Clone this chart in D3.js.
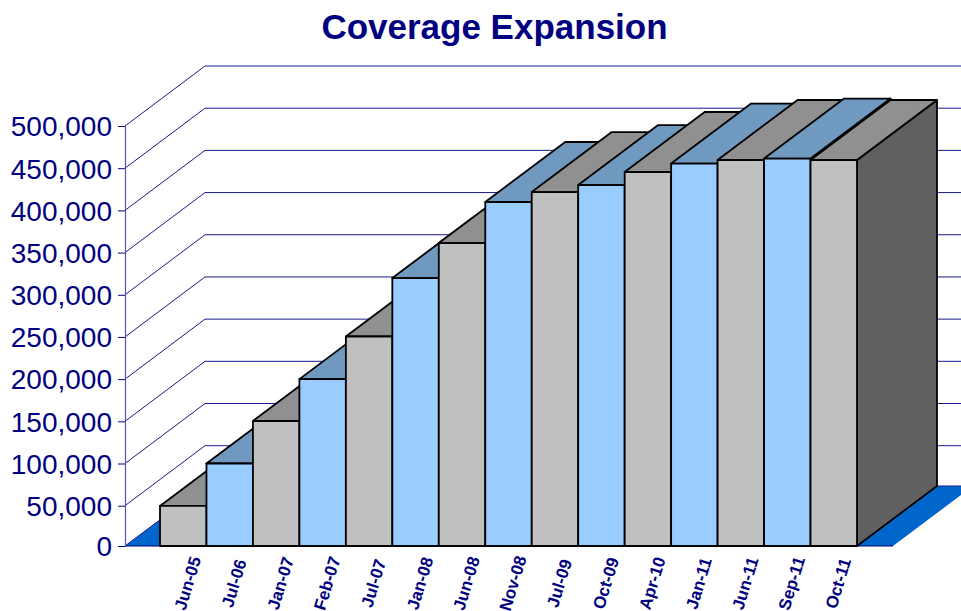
<!DOCTYPE html>
<html>
<head>
<meta charset="utf-8">
<script src="https://cdn.jsdelivr.net/npm/d3@7/dist/d3.min.js"></script>
<style>
html, body { margin: 0; padding: 0; background: #fff; overflow: hidden; }
svg { display: block; font-family: "Liberation Sans", Arial, sans-serif; }
</style>
</head>
<body>
<div id="chart"></div>
<script>
var months = ["Jun-05","Jul-06","Jan-07","Feb-07","Jul-07","Jan-08","Jun-08","Nov-08","Jul-09","Oct-09","Apr-10","Jan-11","Jun-11","Sep-11","Oct-11"];
var coverage = [49700,100000,150400,200000,250500,319800,361300,409900,421700,430000,445500,455500,459700,461400,459700];
var yTicks = [0,50000,100000,150000,200000,250000,300000,350000,400000,450000,500000];

var width = 961, height = 611;
var navy = "#000080";

// oblique offset for the depth of the chart box
var depthX = 80, depthY = -60;

var svg = d3.select("#chart").append("svg")
    .attr("width", width)
    .attr("height", height);

// the first interval is drawn a little shorter than the rest
var y = d3.scaleLinear().domain([0, 50000, 500000]).range([546, 505.7, 126]);
var wall = d3.scaleLinear().domain([0, 1]).range([125, 893]);
var x = d3.scaleBand().domain(months).range([160, 857]);

var poly = d3.line();

// floor
svg.append("path")
    .attr("d", poly([[wall(0), y(0)], [wall(1), y(0)], [wall(1) + depthX, y(0) + depthY], [wall(0) + depthX, y(0) + depthY]]) + "Z")
    .attr("fill", "#0066cc");

// grid on the left and back walls
var grid = svg.append("g").attr("fill", "none").attr("stroke", "#1a1a8c").attr("stroke-width", 1);
yTicks.forEach(function(t) {
    grid.append("path")
        .attr("d", poly([[wall(0), y(t)], [wall(0) + depthX, y(t) + depthY], [wall(1) + depthX, y(t) + depthY]]));
});

svg.append("line")
    .attr("x1", wall(0)).attr("x2", wall(1))
    .attr("y1", y(0)).attr("y2", y(0))
    .attr("stroke", navy).attr("stroke-width", 1);

// bars run left to right so each one covers the sides of the previous one
var bars = svg.selectAll("g.bar")
    .data(months)
    .enter().append("g")
    .attr("class", "bar")
    .attr("stroke", "#000")
    .attr("stroke-width", 1.8)
    .attr("stroke-linejoin", "round");

bars.each(function(m, i) {
    var g = d3.select(this);
    var x0 = x(m), x1 = x(m) + x.bandwidth();
    var top = y(coverage[i]), base = y(0);
    var blue = i % 2 === 1;

    g.append("path")
        .attr("fill", "#606060")
        .attr("d", poly([[x1, top], [x1 + depthX, top + depthY], [x1 + depthX, base + depthY], [x1, base]]) + "Z");
    g.append("path")
        .attr("fill", blue ? "#7099c0" : "#909090")
        .attr("d", poly([[x0, top], [x1, top], [x1 + depthX, top + depthY], [x0 + depthX, top + depthY]]) + "Z");
    g.append("path")
        .attr("fill", blue ? "#99ccff" : "#c0c0c0")
        .attr("d", poly([[x0, top], [x1, top], [x1, base], [x0, base]]) + "Z");
});

// value axis
var yAxis = d3.axisLeft(y)
    .tickValues(yTicks)
    .tickFormat(d3.format(","))
    .tickSize(7)
    .tickPadding(6);

var gY = svg.append("g")
    .attr("transform", "translate(" + wall(0) + ",0)")
    .call(yAxis);
gY.select(".domain").attr("stroke", "#5555ac").attr("stroke-width", 1.2);
gY.selectAll(".tick line").attr("stroke", navy);
gY.selectAll("text")
    .attr("fill", navy)
    .attr("dy", "0.35em")
    .style("font-size", "28px")
    .style("font-family", "'Liberation Sans', Arial, sans-serif");

// month labels, slanted and running off the bottom of the page
var xAxis = d3.axisBottom(x).tickSize(0).tickPadding(0);
var gX = svg.append("g")
    .attr("transform", "translate(0," + y(0) + ")")
    .call(xAxis);
gX.select(".domain").remove();
gX.selectAll("text")
    .attr("fill", navy)
    .attr("text-anchor", "middle")
    .attr("dy", null)
    .attr("y", null)
    .attr("transform", "translate(10,39) rotate(-73)")
    .style("font-size", "17px")
    .style("font-weight", "bold")
    .style("font-family", "'Liberation Sans', Arial, sans-serif");

svg.append("text")
    .attr("x", 494.5)
    .attr("y", 39)
    .attr("text-anchor", "middle")
    .attr("fill", navy)
    .style("font-size", "35px")
    .style("font-weight", "bold")
    .text("Coverage Expansion");
</script>
</body>
</html>
